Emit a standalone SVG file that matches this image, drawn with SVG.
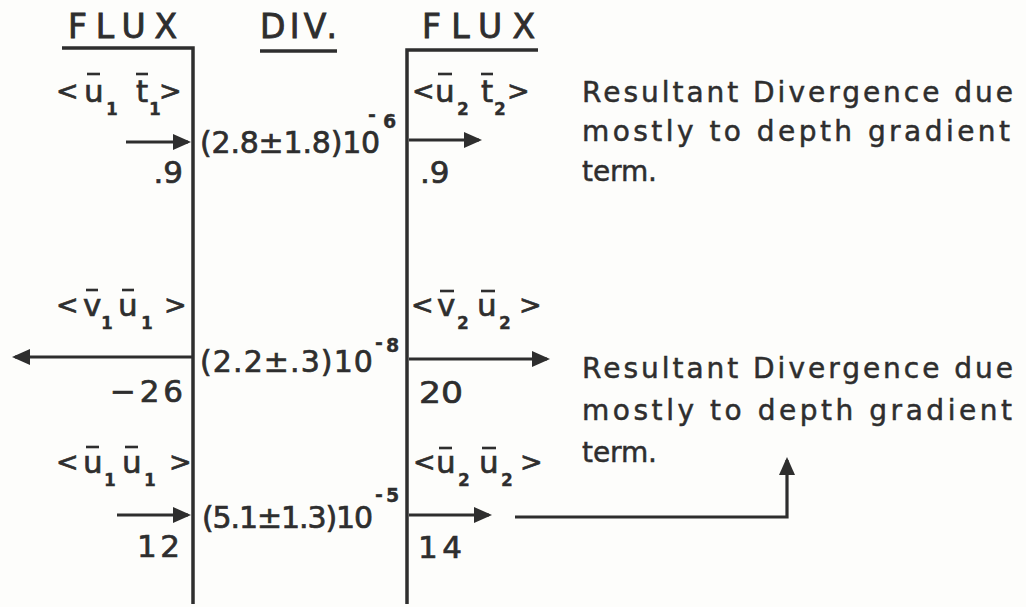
<svg xmlns="http://www.w3.org/2000/svg" width="1026" height="607" viewBox="0 0 1026 607">
<defs>
<style>
text{font-family:"DejaVu Sans","Liberation Sans",Arial,sans-serif;fill:#2e2e2e;stroke:#2e2e2e;stroke-width:0.7}
.hd{font-size:33px;stroke-width:0.9}
.lab{font-size:31px}
.ang{font-size:27px}
.sub{font-size:17px;font-weight:bold;stroke-width:0.3}
.num{font-size:31px}
.div{font-size:30px}
.sup{font-size:19px;font-weight:bold;stroke-width:0.3}
.note{font-size:28px;stroke-width:0.5}
.ln{stroke:#2e2e2e;stroke-width:3.5;fill:none}
.bar{stroke:#2e2e2e;stroke-width:2.6}
.arr{stroke:#2e2e2e;stroke-width:3.2;fill:none;marker-end:url(#ah)}
</style>
<marker id="ah" markerUnits="userSpaceOnUse" markerWidth="18" markerHeight="16" refX="15" refY="8" orient="auto">
<path d="M0,0 L18,8 L0,16 Z" fill="#2e2e2e"/>
</marker>
</defs>
<rect width="1026" height="607" fill="#fdfdfb"/>

<g id="connectors">
<path class="ln" d="M62,48 H193 V604"/>
<path class="ln" d="M538,50 H407 V604"/>
<line class="ln" x1="260" y1="51" x2="337" y2="51"/>
<path class="arr" d="M126,142 H188"/>
<path class="arr" d="M409,140 H479"/>
<path class="arr" d="M193,357 H15"/>
<path class="arr" d="M409,359 H547"/>
<path class="arr" d="M117,515 H188"/>
<path class="arr" d="M409,515 H489"/>
<path class="arr" d="M515,517 H787 V460"/>
</g>

<g id="header-flux-left"><text class="hd" x="68" y="38" textLength="109" lengthAdjust="spacing">FLUX</text></g>
<g id="header-div"><text class="hd" x="260" y="38" textLength="77" lengthAdjust="spacing">DIV.</text></g>
<g id="header-flux-right"><text class="hd" x="422" y="38" textLength="113" lengthAdjust="spacing">FLUX</text></g>

<g id="flux-ut-1">
<text class="ang" y="100"><tspan x="56">&lt;</tspan><tspan x="159">&gt;</tspan></text>
<text class="lab" y="102"><tspan x="84">u</tspan><tspan x="136">t</tspan></text>
<text class="sub" y="115"><tspan x="106">1</tspan><tspan x="149">1</tspan></text>
<line class="bar" x1="87" y1="74" x2="100" y2="74"/><line class="bar" x1="136" y1="74" x2="148" y2="74"/>
<text class="num" x="183" y="183" text-anchor="end">.9</text>
</g>
<g id="div-1">
<text class="div" x="200" y="153" style="letter-spacing:-0.2px">(2.8±1.8)10<tspan class="sup" x="368" y="121">-</tspan><tspan class="sup" x="383" y="128">6</tspan></text>
</g>
<g id="flux-ut-2">
<text class="ang" y="100"><tspan x="412">&lt;</tspan><tspan x="507">&gt;</tspan></text>
<text class="lab" y="102"><tspan x="435">u</tspan><tspan x="481">t</tspan></text>
<text class="sub" y="115"><tspan x="457">2</tspan><tspan x="494">2</tspan></text>
<line class="bar" x1="438" y1="74" x2="452" y2="74"/><line class="bar" x1="481" y1="74" x2="493" y2="74"/>
<text class="num" x="420" y="183">.9</text>
</g>

<g id="flux-vu-1">
<text class="ang" y="314"><tspan x="56">&lt;</tspan><tspan x="164">&gt;</tspan></text>
<text class="lab" y="316"><tspan x="83">v</tspan><tspan x="118">u</tspan></text>
<text class="sub" y="329"><tspan x="101">1</tspan><tspan x="141">1</tspan></text>
<line class="bar" x1="86" y1="290" x2="98" y2="290"/><line class="bar" x1="122" y1="290" x2="134" y2="290"/>
<text class="num" x="110" y="402" textLength="73" lengthAdjust="spacing">−26</text>
</g>
<g id="div-2">
<text class="div" x="200" y="372" style="letter-spacing:1.1px">(2.2±.3)10<tspan class="sup" x="375" y="349">-</tspan><tspan class="sup" x="386" y="352">8</tspan></text>
</g>
<g id="flux-vu-2">
<text class="ang" y="314"><tspan x="411">&lt;</tspan><tspan x="519">&gt;</tspan></text>
<text class="lab" y="316"><tspan x="437">v</tspan><tspan x="477">u</tspan></text>
<text class="sub" y="329"><tspan x="457">2</tspan><tspan x="499">2</tspan></text>
<line class="bar" x1="440" y1="291" x2="454" y2="291"/><line class="bar" x1="481" y1="291" x2="495" y2="291"/>
<text class="num" x="419" y="403" textLength="44" lengthAdjust="spacingAndGlyphs">20</text>
</g>

<g id="flux-uu-1">
<text class="ang" y="471"><tspan x="56">&lt;</tspan><tspan x="169">&gt;</tspan></text>
<text class="lab" y="473"><tspan x="83">u</tspan><tspan x="122">u</tspan></text>
<text class="sub" y="486"><tspan x="104">1</tspan><tspan x="144">1</tspan></text>
<line class="bar" x1="86" y1="447" x2="99" y2="447"/><line class="bar" x1="125" y1="447" x2="138" y2="447"/>
<text class="num" x="137" y="557" textLength="43" lengthAdjust="spacing">12</text>
</g>
<g id="div-3">
<text class="div" x="202" y="528" style="letter-spacing:-1.1px">(5.1±1.3)10<tspan class="sup" x="375" y="501">-</tspan><tspan class="sup" x="386" y="502">5</tspan></text>
</g>
<g id="flux-uu-2">
<text class="ang" y="471"><tspan x="413">&lt;</tspan><tspan x="520">&gt;</tspan></text>
<text class="lab" y="473"><tspan x="436">u</tspan><tspan x="479">u</tspan></text>
<text class="sub" y="486"><tspan x="458">2</tspan><tspan x="501">2</tspan></text>
<line class="bar" x1="439" y1="448" x2="452" y2="448"/><line class="bar" x1="482" y1="448" x2="496" y2="448"/>
<text class="num" x="418" y="558" textLength="44" lengthAdjust="spacing">14</text>
</g>

<g id="note-1">
<text class="note" x="582" y="102" textLength="431" lengthAdjust="spacing">Resultant Divergence due</text>
<text class="note" x="582" y="141" textLength="428" lengthAdjust="spacing">mostly to depth gradient</text>
<text class="note" x="582" y="181" textLength="75" lengthAdjust="spacing">term.</text>
</g>
<g id="note-2">
<text class="note" x="582" y="378" textLength="431" lengthAdjust="spacing">Resultant Divergence due</text>
<text class="note" x="582" y="420" textLength="430" lengthAdjust="spacing">mostly to depth gradient</text>
<text class="note" x="582" y="462" textLength="75" lengthAdjust="spacing">term.</text>
</g>
</svg>
